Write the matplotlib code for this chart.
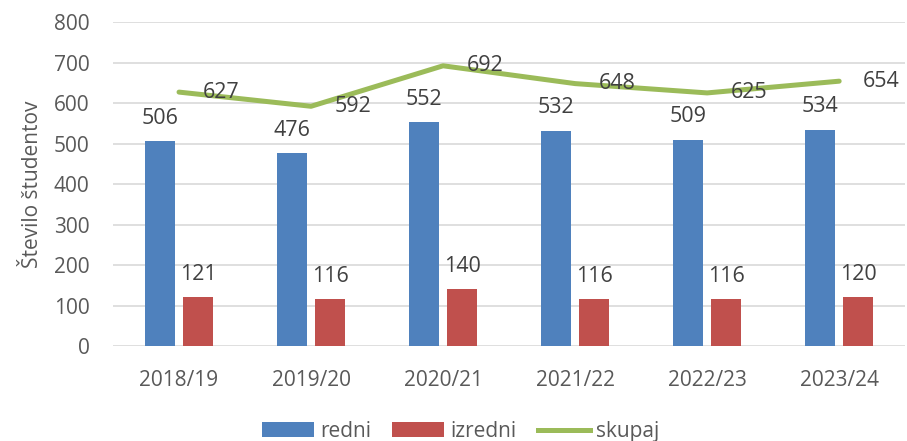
import matplotlib.pyplot as plt
import numpy as np
from matplotlib.patches import Patch
from matplotlib.lines import Line2D

years = ["2018/19", "2019/20", "2020/21", "2021/22", "2022/23", "2023/24"]
redni = [506, 476, 552, 532, 509, 534]
izredni = [121, 116, 140, 116, 116, 120]
skupaj = [627, 592, 692, 648, 625, 654]

BLUE = "#4F81BD"
RED = "#C0504D"
GREEN = "#9BBB59"
TEXT = "#595959"

plt.rcParams["font.family"] = ["Open Sans", "DejaVu Sans"]
plt.rcParams["font.size"] = 15

fig = plt.figure(figsize=(9.07, 4.41), dpi=100)
ax = fig.add_axes([0.1246, 0.2154, 0.8734, 0.7346])

x = np.arange(len(years))
w = 0.227
off = 0.144
b1 = ax.bar(x - off, redni, w, color=BLUE, zorder=3)
b2 = ax.bar(x + off, izredni, w, color=RED, zorder=3)
ax.plot(x, skupaj, color=GREEN, lw=3.6, zorder=4, solid_capstyle="round")

ax.bar_label(b1, padding=9, color="#404040", fontsize=15.5)
ax.bar_label(b2, padding=9, color="#404040", fontsize=15.5)
for xi, v in zip(x, skupaj):
    ax.annotate(str(v), (xi, v), xytext=(17, 0), textcoords="offset points",
                ha="left", va="center", color="#404040", fontsize=15.5, zorder=5)

ax.set_xlim(-0.5, len(years) - 0.5)
ax.set_ylim(0, 800)
ax.set_yticks(range(0, 801, 100))
ax.set_xticks(x)
ax.set_xticklabels(years)
ax.tick_params(axis="both", length=0, colors=TEXT, labelsize=15)
ax.tick_params(axis="x", pad=17)
ax.tick_params(axis="y", pad=17)
ax.grid(axis="y", color="#D9D9D9", lw=1.2, zorder=0)
for s in ax.spines.values():
    s.set_visible(False)
ax.set_ylabel("Število študentov", color=TEXT, fontsize=15, labelpad=8)

handles = [
    Patch(facecolor=BLUE, label="redni"),
    Patch(facecolor=RED, label="izredni"),
    Line2D([0], [0], color=GREEN, lw=3.6, label="skupaj"),
]
fig.legend(handles=handles, loc="center", bbox_to_anchor=(0.508, 0.022), ncol=3,
           frameon=False, handlelength=2.5, handleheight=0.7, handletextpad=0.3,
           columnspacing=1.0, labelcolor=TEXT, fontsize=15)

fig.savefig("out.png", dpi=100)
